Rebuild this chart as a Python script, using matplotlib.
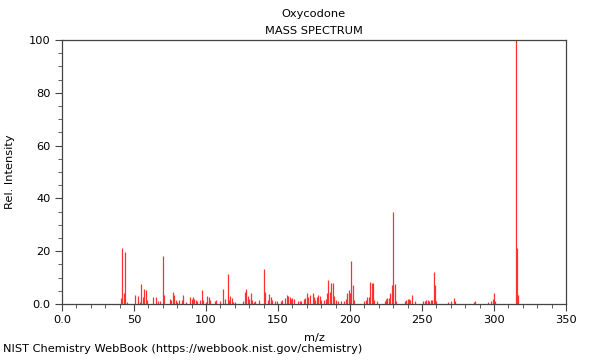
"""Oxycodone electron-ionisation mass spectrum (NIST style stick plot)."""

import matplotlib

matplotlib.use("Agg")
import matplotlib.pyplot as plt
import matplotlib.ticker as mticker

# m/z values and relative intensities
mz = [
    41, 42, 43, 44, 45, 51, 53, 54, 55, 56, 57, 58, 59, 63, 65, 67, 68, 70, 71,
    75, 76, 77, 78, 79, 80, 81, 83, 84, 86, 89, 90, 91, 92, 93, 94, 96, 97, 98,
    100, 101, 102, 103, 106, 107, 110, 112, 113, 115, 116, 117, 118, 119, 120,
    126, 127, 128, 129, 130, 131, 132, 133, 134, 137, 140, 141, 143, 144, 145,
    146, 148, 149, 152, 153, 155, 156, 157, 158, 159, 160, 161, 164, 165, 166,
    168, 169, 170, 171, 172, 174, 175, 176, 177, 178, 179, 180, 182, 183, 184,
    185, 186, 187, 188, 189, 190, 192, 194, 196, 197, 198, 199, 200, 201, 202,
    203, 210, 211, 212, 213, 214, 215, 216, 217, 219, 224, 225, 226, 227, 228,
    229, 230, 231, 232, 238, 239, 240, 241, 242, 243, 245, 251, 252, 253, 254,
    255, 256, 257, 258, 259, 260, 268, 270, 272, 273, 286, 287, 296, 298, 299,
    300, 301, 315, 316, 317,
]
intensity = [
    2.4, 21.2, 4.0, 19.6, 0.9, 3.4, 3.0, 0.9, 7.6, 2.8, 5.7, 5.4, 1.5, 2.5, 2.5,
    1.0, 1.0, 18.2, 3.4, 1.9, 1.5, 4.7, 3.4, 1.5, 0.9, 1.5, 1.5, 3.4, 0.9, 2.5,
    1.9, 2.8, 1.8, 1.5, 1.0, 1.5, 5.3, 1.5, 0.9, 3.2, 2.8, 1.5, 1.0, 1.5, 1.0,
    5.6, 1.8, 11.4, 1.5, 3.0, 2.1, 0.9, 0.9, 1.0, 4.7, 5.6, 3.0, 1.8, 4.0, 1.5,
    0.9, 1.0, 1.5, 13.3, 4.7, 1.5, 3.8, 2.8, 1.5, 1.0, 1.0, 1.0, 1.5, 2.1, 3.4,
    3.0, 2.8, 1.8, 2.4, 1.8, 1.0, 1.0, 1.0, 1.8, 2.1, 4.3, 2.5, 3.4, 4.3, 2.8,
    1.5, 2.8, 3.4, 3.0, 1.5, 1.5, 1.8, 4.3, 9.1, 4.7, 8.1, 8.1, 3.0, 1.5, 1.0,
    1.0, 1.0, 1.8, 4.0, 5.3, 4.0, 16.4, 7.2, 1.5, 1.0, 1.5, 2.5, 2.5, 8.2, 7.8,
    7.8, 1.5, 1.0, 1.0, 1.8, 2.4, 2.4, 4.0, 7.2, 35.0, 7.6, 1.0, 1.0, 1.5, 1.8,
    1.8, 1.5, 3.4, 1.0, 1.0, 1.0, 1.5, 1.5, 1.0, 1.5, 1.5, 12.2, 7.2, 1.0, 0.6,
    1.1, 2.1, 1.0, 0.6, 1.0, 0.6, 1.0, 1.8, 4.2, 1.0, 100.0, 21.1, 3.4,
]

fig = plt.figure(figsize=(6.0, 3.6), dpi=100)
ax = fig.add_axes([0.1033, 0.1556, 0.84, 0.7333])

ax.vlines(mz, 0, intensity, colors="#ff3030", linewidth=0.9)

ax.set_xlim(0, 350)
ax.set_ylim(0, 100)
ax.xaxis.set_major_locator(mticker.MultipleLocator(50))
ax.xaxis.set_minor_locator(mticker.MultipleLocator(10))
ax.yaxis.set_major_locator(mticker.MultipleLocator(20))
ax.yaxis.set_minor_locator(mticker.MultipleLocator(5))
ax.xaxis.set_major_formatter(
    mticker.FuncFormatter(lambda v, _: "0.0" if v == 0 else f"{v:g}")
)
ax.yaxis.set_major_formatter(
    mticker.FuncFormatter(lambda v, _: "0.0" if v == 0 else f"{v:g}")
)
ax.tick_params(which="major", direction="out", length=5, width=0.8,
               labelsize=8.2, color="#444444", pad=3)
ax.tick_params(which="minor", direction="out", length=3, width=0.6,
               color="#444444")
for sp in ax.spines.values():
    sp.set_color("#444444")
    sp.set_linewidth(0.9)

ax.set_xlabel("m/z", fontsize=8.2, labelpad=6)
ax.set_ylabel("Rel. Intensity", fontsize=8.2, labelpad=10)

fig.text(0.523, 0.962, "Oxycodone", ha="center", va="center", fontsize=8.2)
fig.text(0.523, 0.915, "MASS SPECTRUM", ha="center", va="center", fontsize=8.2)
fig.text(0.005, 0.018, "NIST Chemistry WebBook (https://webbook.nist.gov/chemistry)",
         ha="left", va="bottom", fontsize=8.2)

fig.savefig("out.png", dpi=100)
